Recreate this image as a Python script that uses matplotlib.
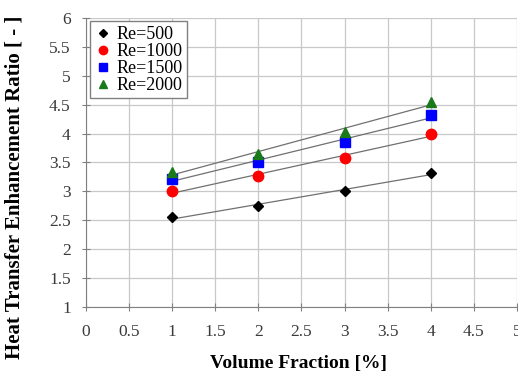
import numpy as np
import matplotlib
matplotlib.use("Agg")
import matplotlib.pyplot as plt

plt.rcParams['font.family'] = ['Liberation Serif', 'DejaVu Serif']

# volume fraction [%]
vol_frac = [1, 2, 3, 4]

# heat transfer enhancement ratio per Reynolds number
re500 = [2.55, 2.75, 3.00, 3.32]
re1000 = [3.00, 3.27, 3.58, 3.99]
re1500 = [3.22, 3.50, 3.85, 4.32]
re2000 = [3.33, 3.65, 4.03, 4.55]

series = [
    ("Re=500", re500, "D", "black", 5.5),
    ("Re=1000", re1000, "o", "#ff0000", 7.5),
    ("Re=1500", re1500, "s", "#0000ff", 7),
    ("Re=2000", re2000, "^", "#1a7a1a", 7.5),
]

fig = plt.figure(figsize=(5.18, 3.8), dpi=100)
ax = fig.add_axes([0.166, 0.192, 0.832, 0.761])

x = np.array(vol_frac, dtype=float)
for label, y, m, c, ms in series:
    # linear trendline through each data set
    k, b = np.polyfit(x, y, 1)
    ax.plot(x, k * x + b, color="#707070", lw=0.9, zorder=2)
    ax.plot(x, y, linestyle="none", marker=m, color=c, markersize=ms,
            label=label, zorder=3)

ax.set_xlim(0, 5)
ax.set_ylim(1, 6)
ax.set_xticks(np.arange(0, 5.01, 0.5))
ax.set_yticks(np.arange(1, 6.01, 0.5))
ax.set_xticklabels(["0", "0.5", "1", "1.5", "2", "2.5", "3", "3.5", "4", "4.5", "5"])
ax.set_yticklabels(["1", "1.5", "2", "2.5", "3", "3.5", "4", "4.5", "5", "5.5", "6"])
ax.grid(True, color="#c8c8c8", lw=0.9)
ax.set_axisbelow(True)

for s in ["top", "right"]:
    ax.spines[s].set_visible(False)
for s in ["left", "bottom"]:
    ax.spines[s].set_color("#808080")
ax.tick_params(colors="#808080", labelcolor="#3a3a3a", labelsize=12.5,
               length=6, direction="inout")
ax.tick_params(axis="x", pad=9)
ax.tick_params(axis="y", pad=8)

ax.set_xlabel("Volume Fraction [%]", fontsize=14, fontweight="bold")
ax.set_ylabel("Heat Transfer Enhancement Ratio [ - ]", fontsize=15,
              fontweight="bold")
ax.xaxis.set_label_coords(0.494, -0.165)
ax.yaxis.set_label_coords(-0.142, 0.415)

leg = ax.legend(loc="upper left", bbox_to_anchor=(0.0, 1.0), fontsize=13,
                fancybox=False, framealpha=1, edgecolor="#808080",
                handlelength=1.0, handletextpad=0.25, borderpad=0.25,
                labelspacing=0.0, borderaxespad=0.2, markerscale=0.8)
leg.get_frame().set_linewidth(1.0)

fig.savefig("out.png", dpi=100)
